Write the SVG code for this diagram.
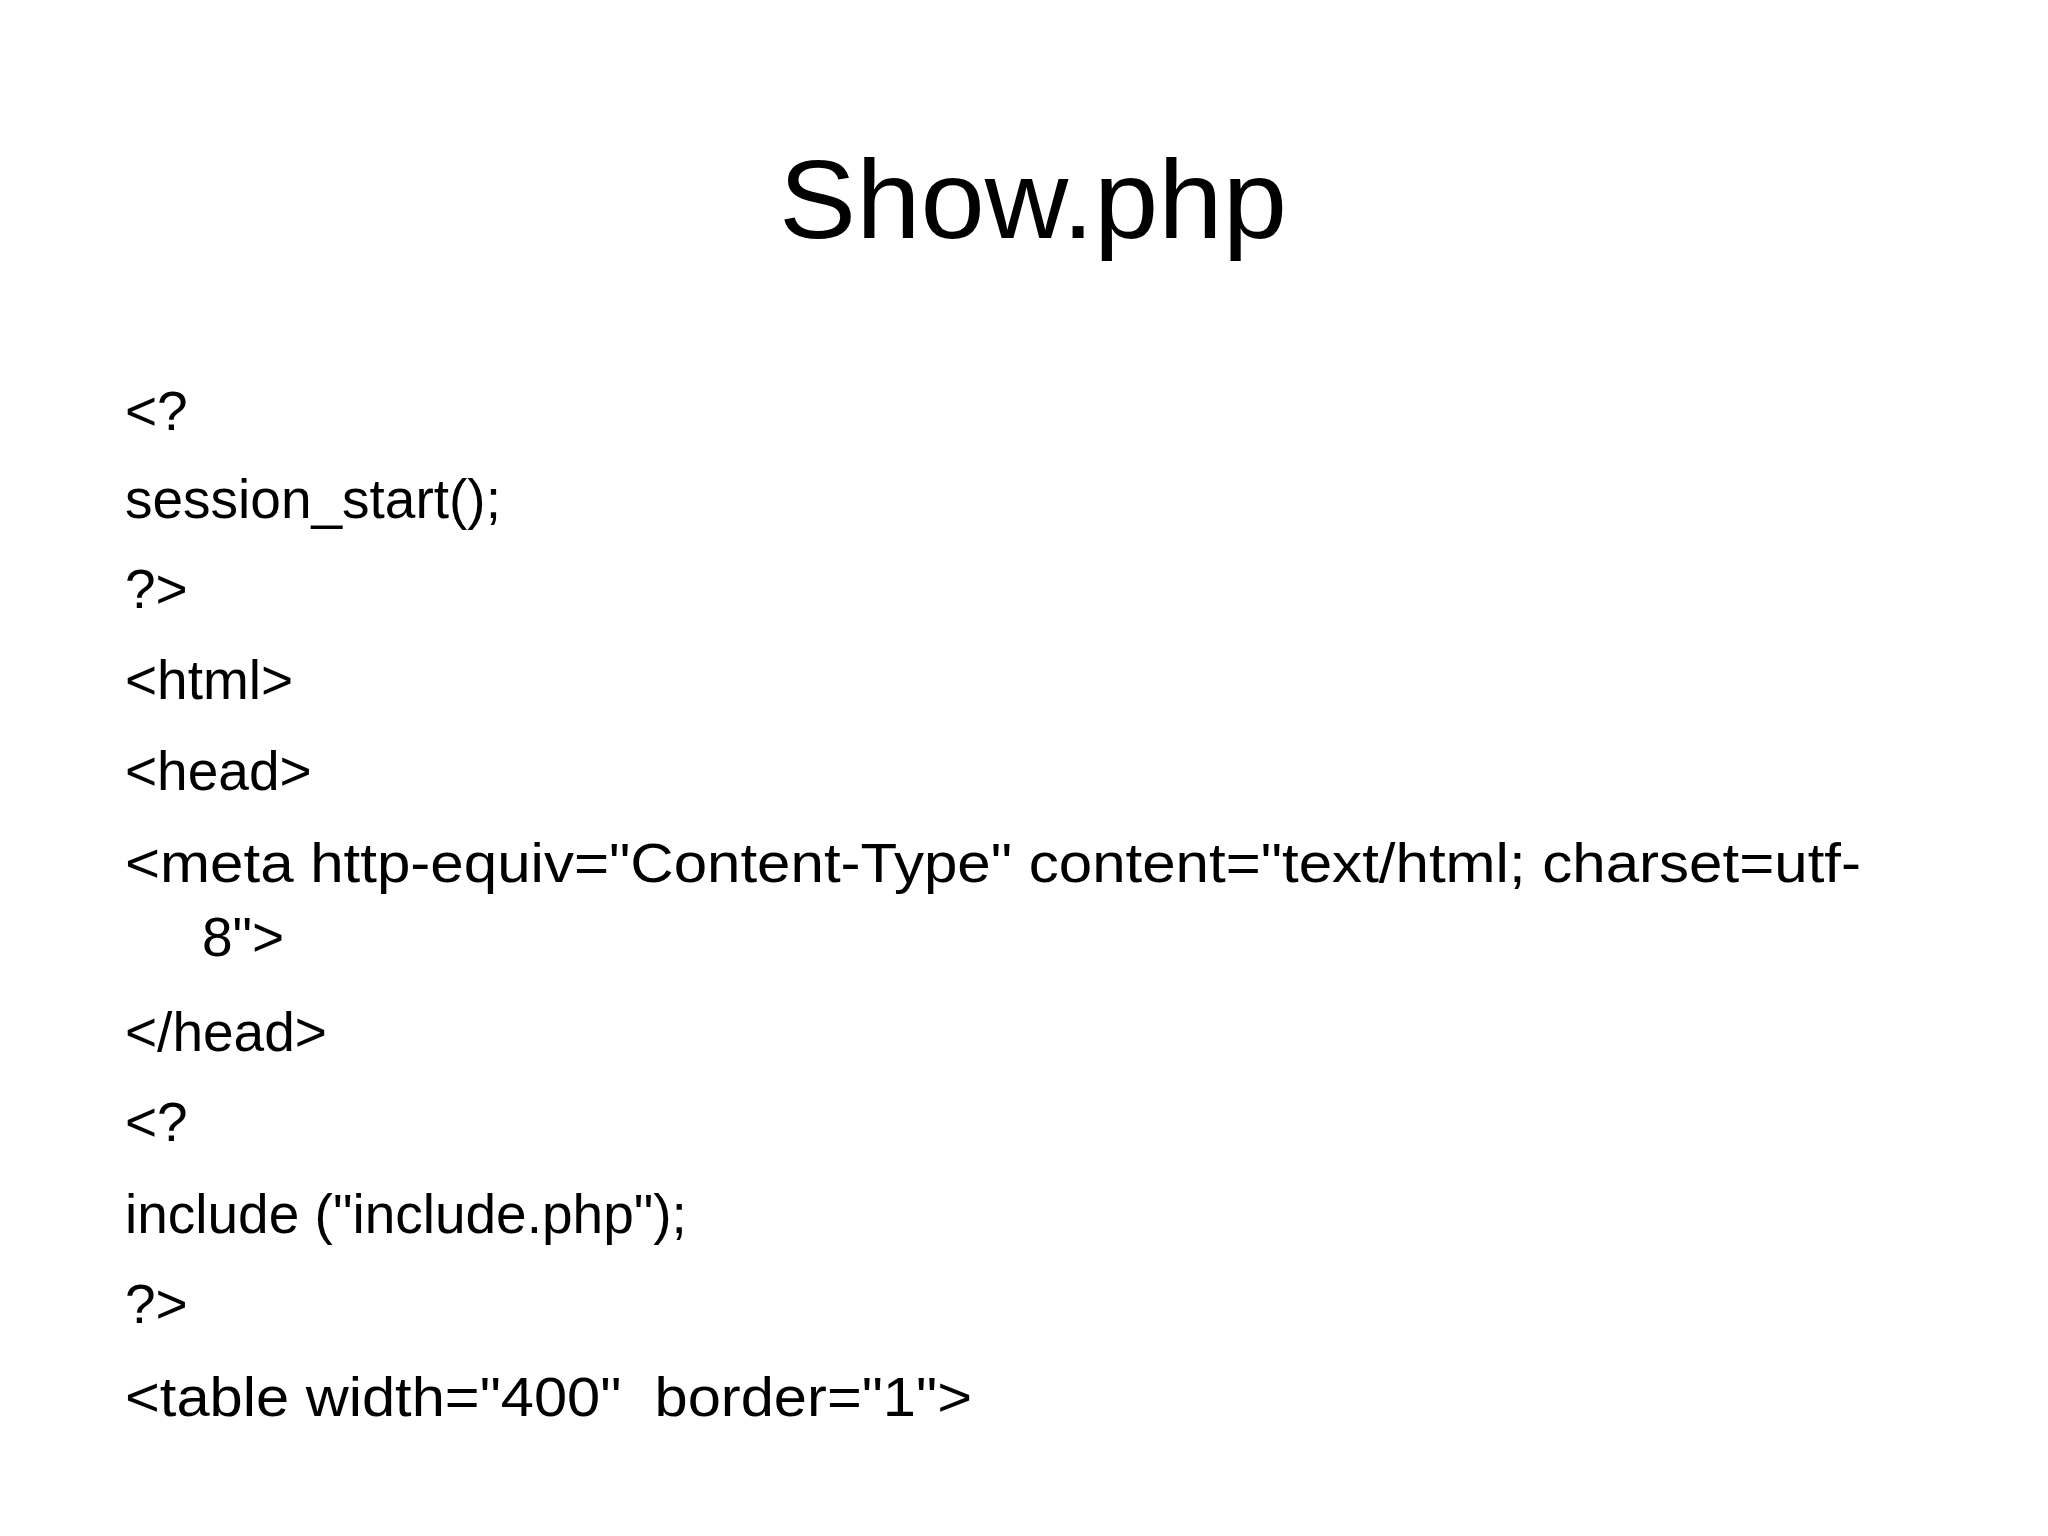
<svg xmlns="http://www.w3.org/2000/svg" width="2048" height="1536" viewBox="0 0 2048 1536">
<style>
.t{font-family:"Liberation Sans","DejaVu Sans",sans-serif;fill:#000}
.b{font-size:55px}
</style>
<rect width="2048" height="1536" fill="#fff"/>
<text class="t" x="1033" y="238" font-size="112" text-anchor="middle" textLength="508" lengthAdjust="spacingAndGlyphs">Show.php</text>
<g class="t b">
<text x="125" y="430">&lt;?</text>
<text x="125" y="518">session_start();</text>
<text x="125" y="608">?&gt;</text>
<text x="125" y="699">&lt;html&gt;</text>
<text x="125" y="790">&lt;head&gt;</text>
<text x="125" y="882" textLength="1736" lengthAdjust="spacingAndGlyphs">&lt;meta http-equiv="Content-Type" content="text/html; charset=utf-</text>
<text x="202" y="956">8"&gt;</text>
<text x="125" y="1051">&lt;/head&gt;</text>
<text x="125" y="1141">&lt;?</text>
<text x="125" y="1233">include ("include.php");</text>
<text x="125" y="1323">?&gt;</text>
<text x="125" y="1416" xml:space="preserve" textLength="847" lengthAdjust="spacingAndGlyphs">&lt;table width="400"  border="1"&gt;</text>
</g>
</svg>
